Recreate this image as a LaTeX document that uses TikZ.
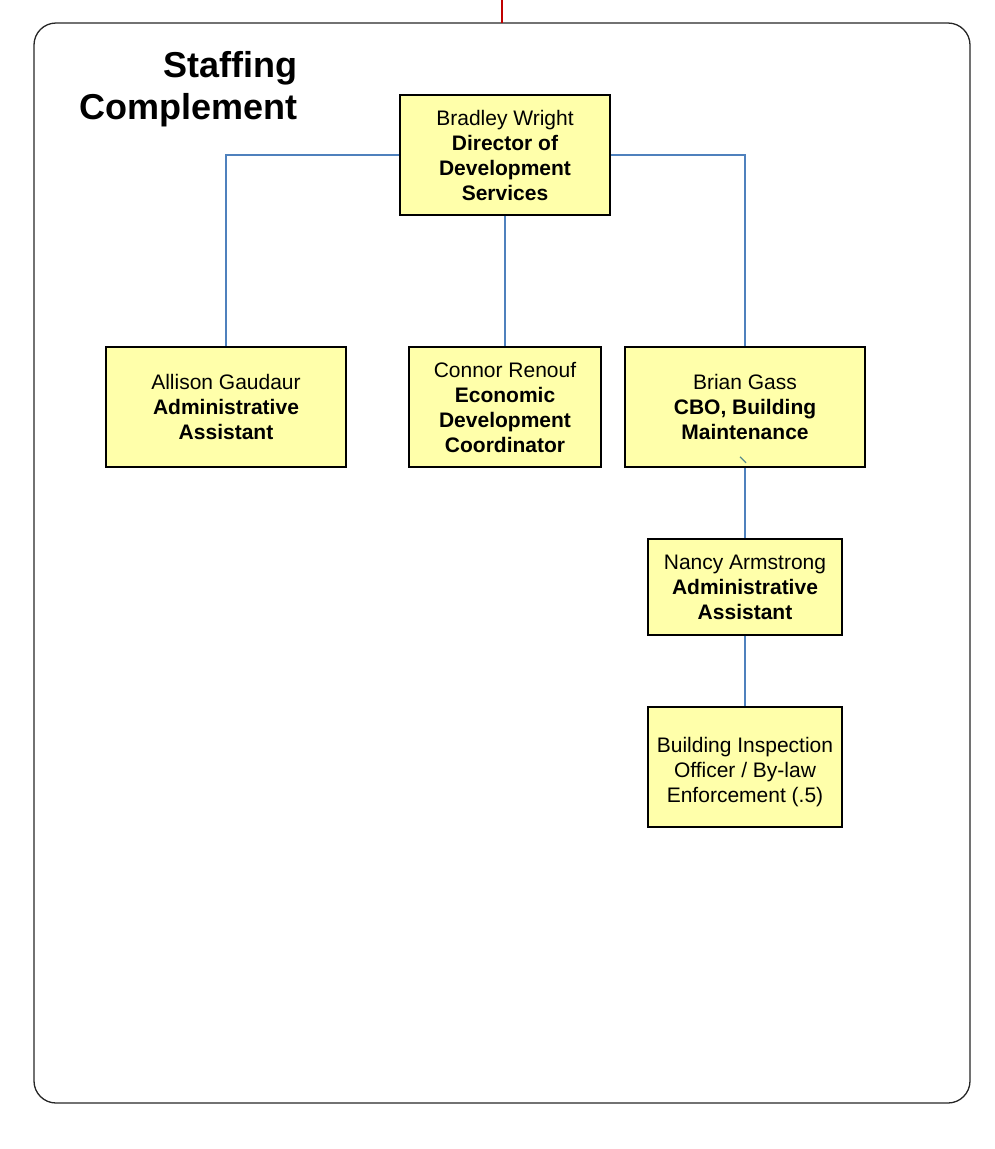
\documentclass[tikz,border=0pt]{standalone}
\usepackage{fontspec}
\setmainfont{Liberation Sans}
\usepackage{tikz}

\definecolor{boxfill}{RGB}{255,255,170}
\definecolor{linkblue}{RGB}{79,129,189}
\definecolor{topred}{RGB}{192,0,0}
\definecolor{tickgrey}{RGB}{90,140,140}

\tikzset{
    staffbox/.style={draw=black, line width=1.6pt, fill=boxfill, inner sep=0pt,
        align=center, font=\fontsize{21}{25}\selectfont},
    link/.style={draw=linkblue, line width=1.4pt}
}

\begin{document}
\begin{tikzpicture}[x=1pt,y=-1pt]
                \useasboundingbox (0,0) rectangle (994,1149);

                \draw[draw=black!85, line width=1.3pt, rounded corners=22pt] (34,23) rectangle (970,1103);
                \coordinate (topend) at (502,0);
                \coordinate (framebase) at (502,23);
                \draw[draw=topred, line width=2.6pt] (topend) -- (framebase);

                \node[align=right, anchor=east, inner sep=0pt, font=\bfseries\fontsize{36}{42}\selectfont] (title) at (298,89) {Staffing\\Complement};

                \node[staffbox, minimum width=210pt, minimum height=120pt] (bradley) at (505,155)
                {Bradley Wright\\\textbf{Director of}\\\textbf{Development}\\\textbf{Services}};

                \node[staffbox, minimum width=240pt, minimum height=120pt] (allison) at (226,407)
                {Allison Gaudaur\\\textbf{Administrative}\\\textbf{Assistant}};

                \node[staffbox, minimum width=192pt, minimum height=120pt] (connor) at (505,407)
                {Connor Renouf\\\textbf{Economic}\\\textbf{Development}\\\textbf{Coordinator}};

                \node[staffbox, minimum width=240pt, minimum height=120pt] (brian) at (745,407)
                {Brian Gass\\\textbf{CBO, Building}\\\textbf{Maintenance}};

                \node[staffbox, minimum width=194pt, minimum height=96pt] (nancy) at (745,587)
                {Nancy Armstrong\\\textbf{Administrative}\\\textbf{Assistant}};

                \node[staffbox, minimum width=194pt, minimum height=120pt] (inspector) at (745,767)
                {\mbox{}\\Building Inspection\\Officer / By-law\\Enforcement (.5)};

                \draw[link] (bradley.west) -| (allison.north);
                \draw[link] (bradley.east) -| (brian.north);
                \draw[link] (bradley.south) -- (connor.north);
                \draw[link] (brian.south) -- (nancy.north);
                \draw[link] (nancy.south) -- (inspector.north);

                \draw[draw=tickgrey, line width=1.3pt] ([xshift=-5pt,yshift=11pt]brian.south) -- ([xshift=1pt,yshift=5pt]brian.south);
            \end{tikzpicture}
\end{document}
